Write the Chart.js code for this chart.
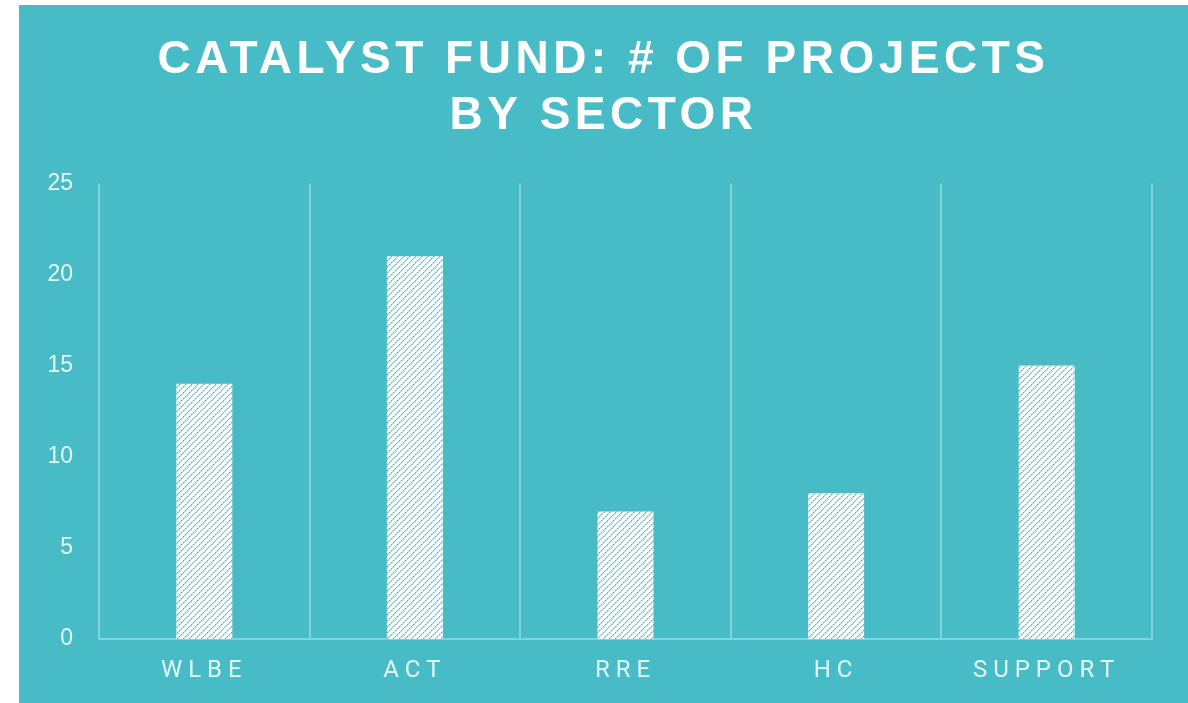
<!DOCTYPE html>
<html lang="en">
<head>
    <meta charset="UTF-8">
    <title>Catalyst Fund</title>
    <script src="https://cdn.jsdelivr.net/npm/chart.js"></script>
    <style>
        body { margin: 0; background: #fff; }
        #box { position: absolute; left: 19px; top: 5px; width: 1169px; height: 698px; background: #47bbc6; }
    </style>
</head>
<body>
    <div id="box"><canvas id="sectorChart"></canvas></div>
    <script>
        const sectors = ['WLBE', 'ACT', 'RRE', 'HC', 'SUPPORT'];
        const projectCounts = [14, 21, 7, 8, 15];
        const titleLines = ['CATALYST FUND: # OF PROJECTS', 'BY SECTOR'];

        const GRID = '#7fd4dd';
        const TICK = '#e4f5f7';

        // white bars with dotted diagonal hatching
        function makeHatch() {
            var c = document.createElement('canvas');
            c.width = 6; c.height = 6;
            var p = c.getContext('2d');
            p.fillStyle = '#ffffff';
            p.fillRect(0, 0, 6, 6);
            for (var i = 0; i < 6; i++) {
                p.fillStyle = (i % 2) ? '#9fd8dd' : '#55a9b2';
                p.fillRect(i, 5 - i, 1, 1);
                p.fillStyle = '#c4e8eb';
                p.fillRect((i + 1) % 6, 5 - i, 1, 1);
            }
            return p.createPattern(c, 'repeat');
        }

        // letter spacing for the title only
        const spacingPlugin = {
            id: 'spacing',
            beforeDraw(chart) { chart.ctx.letterSpacing = '4.5px'; },
            beforeDatasetsDraw(chart) { chart.ctx.letterSpacing = '0px'; }
        };

        var canvas = document.getElementById('sectorChart');
        canvas.width = 1169; canvas.height = 698;
        var ctx = canvas.getContext('2d');

        var chart = new Chart(ctx, {
            type: 'bar',
            data: {
                labels: sectors,
                datasets: [{
                    data: projectCounts,
                    backgroundColor: makeHatch(),
                    borderWidth: 0,
                    categoryPercentage: 1,
                    barPercentage: 0.266
                }]
            },
            options: {
                responsive: false,
                animation: false,
                layout: { padding: 0 },
                plugins: {
                    legend: { display: false },
                    tooltip: { enabled: false },
                    title: {
                        display: true,
                        text: titleLines,
                        color: '#ffffff',
                        font: { family: '"Liberation Sans", Arial, sans-serif', size: 46, weight: 'bold', lineHeight: 1.22 },
                        padding: { top: 27, bottom: 39 }
                    }
                },
                scales: {
                    x: {
                        grid: { color: GRID, lineWidth: 2, drawTicks: false, offset: true },
                        border: { color: GRID, width: 2 },
                        ticks: {
                            color: TICK,
                            padding: 18,
                            z: 1,
                            font: { family: 'Roboto, sans-serif', size: 24 },
                            callback: function (v, i) { return sectors[i].split('').join(' ') + ' '; }
                        },
                        afterFit: function (s) { s.height = 64; }
                    },
                    y: {
                        min: 0,
                        max: 25,
                        grid: { display: false, drawTicks: false },
                        border: { display: false },
                        ticks: {
                            stepSize: 5,
                            color: TICK,
                            padding: 26,
                            z: 1,
                            font: { family: '"Liberation Sans", Arial, sans-serif', size: 23 }
                        },
                        afterFit: function (s) { s.width = 80; }
                    },
                    // empty right axis, only keeps the right margin
                    yRight: {
                        position: 'right',
                        min: 0,
                        max: 25,
                        grid: { display: false, drawTicks: false },
                        border: { display: false },
                        ticks: { display: false },
                        afterFit: function (s) { s.width = 36; }
                    }
                }
            },
            plugins: [spacingPlugin]
        });
    </script>
</body>
</html>
